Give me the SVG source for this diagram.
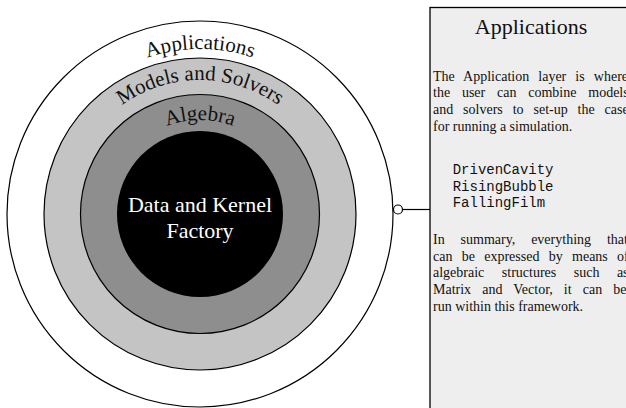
<svg xmlns="http://www.w3.org/2000/svg" width="626" height="408" viewBox="0 0 626 408">
  <style>
    .ring { stroke: #000; stroke-width: 1.2; }
    .arc { font-family: "Liberation Serif", "DejaVu Serif", serif; font-size: 21px; fill: #111; }
    .core { font-family: "Liberation Serif", "DejaVu Serif", serif; font-size: 22px; fill: #fff; text-anchor: middle; }
    .title { font-family: "Liberation Serif", "DejaVu Serif", serif; font-size: 22px; fill: #111; text-anchor: middle; }
    .body { font-family: "Liberation Serif", "DejaVu Serif", serif; font-size: 14px; fill: #111; }
    .mono { font-family: "Liberation Mono", "DejaVu Sans Mono", monospace; font-size: 14px; fill: #111; }
    .conn { stroke: #000; stroke-width: 1.2; fill: none; }
  </style>
  <defs>
    <path id="arcApp" d="M 35 214 A 165 165 0 0 1 365 214"/>
    <path id="arcMod" d="M 66 214 A 134 134 0 0 1 334 214"/>
    <path id="arcAlg" d="M 106 214 A 94 94 0 0 1 294 214"/>
  </defs>

  <g id="applications-layer">
    <circle class="ring" cx="200" cy="214" r="193" fill="#ffffff"/>
    <text class="arc"><textPath href="#arcApp" startOffset="50%" text-anchor="middle">Applications</textPath></text>
  </g>
  <g id="models-layer">
    <circle class="ring" cx="200" cy="214" r="156" fill="#c3c4c3"/>
    <text class="arc"><textPath href="#arcMod" startOffset="50%" text-anchor="middle">Models and Solvers</textPath></text>
  </g>
  <g id="algebra-layer">
    <circle class="ring" cx="200" cy="214" r="119.5" fill="#8e8e8f"/>
    <text class="arc"><textPath href="#arcAlg" startOffset="50%" text-anchor="middle">Algebra</textPath></text>
  </g>
  <g id="kernel-layer">
    <circle cx="200" cy="214" r="83" fill="#000000"/>
    <text class="core" x="200" y="211.5">Data and Kernel</text>
    <text class="core" x="200" y="238">Factory</text>
  </g>

  <g id="connectors">
    <line class="conn" x1="402.5" y1="209.5" x2="430" y2="209.5"/>
    <circle class="conn" cx="398" cy="209.5" r="4.5" fill="#ffffff"/>
  </g>

  <g id="info-panel">
    <rect x="430" y="7.5" width="230" height="430" fill="#eeeeee" stroke="#000" stroke-width="1.3"/>
    <text class="title" x="531" y="34">Applications</text>
    <text class="body" x="433" y="80.5" word-spacing="5.6">The Application layer is where</text>
    <text class="body" x="433" y="97.3" word-spacing="8.3">the user can combine models</text>
    <text class="body" x="433" y="114.2" word-spacing="6.4">and solvers to set-up the case</text>
    <text class="body" x="433" y="131.2">for running a simulation.</text>
    <text class="mono" x="452.7" y="174">DrivenCavity</text>
    <text class="mono" x="452.7" y="190.7">RisingBubble</text>
    <text class="mono" x="452.7" y="207.3">FallingFilm</text>
    <text class="body" x="433" y="244" word-spacing="12.4">In summary, everything that</text>
    <text class="body" x="433" y="260.7" word-spacing="5.8">can be expressed by means of</text>
    <text class="body" x="433" y="277.3" word-spacing="14">algebraic structures such as</text>
    <text class="body" x="433" y="294" word-spacing="7.6">Matrix and Vector, it can be</text>
    <text class="body" x="433" y="310.7">run within this framework.</text>
  </g>
</svg>
